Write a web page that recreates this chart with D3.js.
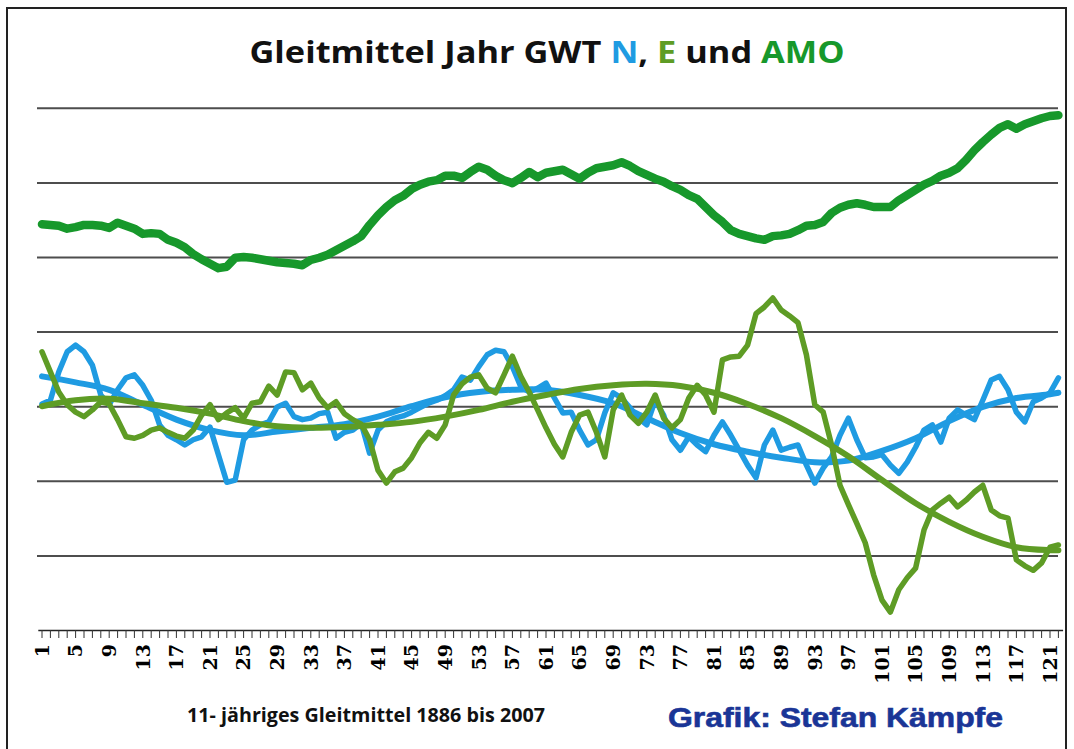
<!DOCTYPE html>
<html><head><meta charset="utf-8">
<script src="https://cdn.jsdelivr.net/npm/d3@7"></script>
<style>body{margin:0;background:#fff}svg{display:block}</style>
</head><body>
<svg id="chart" width="1074" height="749"></svg>
<script>
const categories = ["1","2","3","4","5","6","7","8","9","10","11","12","13","14","15","16","17","18","19","20",
"21","22","23","24","25","26","27","28","29","30","31","32","33","34","35","36","37","38","39","40",
"41","42","43","44","45","46","47","48","49","50","51","52","53","54","55","56","57","58","59","60",
"61","62","63","64","65","66","67","68","69","70","71","72","73","74","75","76","77","78","79","80",
"81","82","83","84","85","86","87","88","89","90","91","92","93","94","95","96","97","98","99","100",
"101","102","103","104","105","106","107","108","109","110","111","112","113","114","115","116","117","118","119","120",
"121","122"];
const tickLabels = ["1","5","9","13","17","21","25","29","33","37","41","45","49","53","57","61","65","69","73","77","81","85","89","93","97","101","105","109","113","117","121"];
const gridValues = [1,2,3,4,5,6,7];

const amo = [5.44,5.43,5.42,5.38,5.40,5.43,5.43,5.42,5.39,5.46,
5.42,5.38,5.31,5.32,5.31,5.23,5.19,5.13,5.04,4.97,
4.91,4.85,4.87,4.99,5.00,4.99,4.97,4.95,4.93,4.92,
4.91,4.89,4.96,4.99,5.03,5.09,5.15,5.21,5.28,5.43,
5.56,5.67,5.76,5.82,5.91,5.97,6.01,6.03,6.09,6.09,
6.06,6.14,6.21,6.17,6.09,6.03,5.99,6.06,6.14,6.07,
6.13,6.15,6.17,6.11,6.05,6.13,6.19,6.21,6.23,6.27,
6.22,6.15,6.10,6.05,6.01,5.95,5.90,5.83,5.78,5.67,
5.56,5.47,5.36,5.31,5.28,5.25,5.23,5.28,5.29,5.31,
5.36,5.42,5.43,5.47,5.59,5.66,5.70,5.72,5.70,5.67,
5.67,5.67,5.76,5.83,5.90,5.97,6.02,6.09,6.13,6.19,
6.30,6.43,6.54,6.64,6.73,6.78,6.72,6.78,6.82,6.86,
6.89,6.90];

const gwtN = [3.03,3.08,3.46,3.73,3.82,3.73,3.55,3.15,3.02,3.22,
3.38,3.42,3.28,3.08,2.75,2.61,2.55,2.48,2.55,2.59,
2.72,2.35,1.98,2.01,2.55,2.68,2.75,2.79,2.99,3.04,
2.86,2.82,2.84,2.90,2.92,2.57,2.65,2.68,2.77,2.37,
2.68,2.79,2.84,2.87,2.92,2.98,3.04,3.08,3.14,3.22,
3.39,3.35,3.53,3.69,3.75,3.73,3.53,3.26,3.19,3.24,
3.31,3.11,2.91,2.92,2.68,2.48,2.55,2.91,3.18,3.11,
2.98,2.84,2.75,3.08,2.88,2.55,2.41,2.59,2.48,2.39,
2.61,2.79,2.61,2.41,2.21,2.04,2.48,2.68,2.41,2.45,
2.48,2.21,1.97,2.17,2.32,2.61,2.84,2.55,2.31,2.32,
2.35,2.21,2.10,2.25,2.45,2.68,2.75,2.52,2.84,2.95,
2.88,2.82,3.08,3.35,3.40,3.22,2.92,2.79,3.06,3.11,
3.18,3.38];

const gwtE = [3.73,3.46,3.19,3.02,2.92,2.86,2.95,3.06,3.03,2.82,
2.59,2.57,2.61,2.68,2.71,2.65,2.60,2.57,2.68,2.88,
3.02,2.82,2.91,2.98,2.84,3.04,3.06,3.27,3.15,3.46,
3.45,3.22,3.31,3.11,2.98,3.06,2.90,2.82,2.76,2.55,
2.14,1.97,2.12,2.17,2.31,2.51,2.65,2.57,2.75,3.15,
3.30,3.39,3.42,3.24,3.18,3.42,3.67,3.40,3.19,2.95,
2.71,2.49,2.32,2.65,2.88,2.92,2.65,2.32,2.95,3.15,
2.88,2.77,2.92,3.15,2.84,2.71,2.82,3.11,3.28,3.15,
2.92,3.62,3.66,3.67,3.82,4.24,4.33,4.45,4.29,4.21,
4.12,3.69,3.02,2.92,2.48,1.94,1.68,1.43,1.17,0.74,
0.40,0.24,0.54,0.70,0.83,1.34,1.61,1.70,1.78,1.65,
1.74,1.85,1.94,1.61,1.53,1.50,0.94,0.86,0.80,0.90,
1.11,1.14];

const trendIdx = ["1","5","9","13","17","21","25","29","33","37","41","45","49","53","57","61","65","69","73","77","81","85","89","93","97","101","105","109","113","117","121","122"];
const trendN = [3.40,3.32,3.22,3.02,2.82,2.68,2.61,2.66,2.71,2.76,2.86,3.00,3.12,3.19,3.22,3.22,3.15,3.04,2.84,2.64,2.49,2.39,2.31,2.25,2.27,2.40,2.57,2.80,2.99,3.11,3.16,3.18];
const trendE = [3.00,3.08,3.10,3.04,2.98,2.90,2.80,2.73,2.71,2.72,2.75,2.79,2.86,2.95,3.06,3.15,3.23,3.28,3.30,3.27,3.18,3.03,2.84,2.60,2.33,2.01,1.70,1.45,1.25,1.11,1.07,1.07];

const colN = "#1f9be2", colE = "#5e9c25", colAMO = "#17982b";

const svg = d3.select("#chart");
svg.append("rect").attr("width",1074).attr("height",749).attr("fill","#fff");
svg.append("path").attr("d","M7,749V8H1066V749").attr("fill","none").attr("stroke","#222").attr("stroke-width",2);

const x = d3.scaleBand().domain(categories).range([37.8,1062.6]).padding(0);
const y = d3.scaleLinear().domain([0,7]).range([630,107.8]);
const cx = d => x(d) + x.bandwidth()/2;

// gridlines
const grid = svg.append("g").attr("transform","translate(37,0)")
  .call(d3.axisLeft(y).tickValues(gridValues).tickSize(-1021).tickFormat(""));
grid.select(".domain").remove();
grid.selectAll(".tick line").attr("stroke","#4d4d4d").attr("stroke-width",2);

// x axis
const xa = svg.append("g").attr("transform","translate(0,630)")
  .call(d3.axisBottom(x).tickValues(categories).tickSize(8).tickSizeOuter(0)
    .tickFormat(d => tickLabels.includes(d) ? d : ""));
xa.select(".domain").attr("stroke","#222").attr("stroke-width",1.6);
xa.selectAll(".tick line").attr("stroke","#333").attr("stroke-width",1);
xa.selectAll(".tick text")
  .attr("transform","rotate(-90)").attr("x",-14).attr("y",0).attr("dy","0.36em")
  .style("text-anchor","end")
  .attr("font-family","'DejaVu Serif', 'Liberation Serif', serif")
  .attr("font-weight","bold").attr("font-size",19).attr("fill","#000");

const lineJag = d3.line().x((d,i) => cx(categories[i])).y(d => y(d));
const lineTrend = d3.line().x((d,i) => cx(trendIdx[i])).y(d => y(d)).curve(d3.curveCatmullRom);

function draw(gen, data, col, w){
  svg.append("path").datum(data).attr("d",gen).attr("fill","none")
    .attr("stroke",col).attr("stroke-width",w)
    .attr("stroke-linejoin","round").attr("stroke-linecap","round");
}
draw(lineJag, gwtN, colN, 5.5);
draw(lineTrend, trendN, colN, 6);
draw(lineJag, gwtE, colE, 5.5);
draw(lineTrend, trendE, colE, 6);
draw(lineJag, amo, colAMO, 8.5);

// title
const t = svg.append("text").attr("x",547).attr("y",63).attr("text-anchor","middle")
  .attr("font-family","'Open Sans', 'Liberation Sans', sans-serif").attr("font-weight","bold")
  .attr("font-size",31).attr("textLength",595).attr("lengthAdjust","spacingAndGlyphs");
t.append("tspan").text("Gleitmittel Jahr GWT ").attr("fill","#111");
t.append("tspan").text("N").attr("fill",colN);
t.append("tspan").text(", ").attr("fill","#111");
t.append("tspan").text("E").attr("fill",colE);
t.append("tspan").text(" und ").attr("fill","#111");
t.append("tspan").text("AMO").attr("fill",colAMO);

svg.append("text").attr("x",187).attr("y",722)
  .attr("font-family","'Open Sans', 'Liberation Sans', sans-serif").attr("font-weight","bold")
  .attr("font-size",20).attr("fill","#111").attr("textLength",358).attr("lengthAdjust","spacingAndGlyphs")
  .text("11- jähriges Gleitmittel 1886 bis 2007");

svg.append("text").attr("x",668).attr("y",727)
  .attr("font-family","'Liberation Sans', Arial, sans-serif").attr("font-weight","bold")
  .attr("font-size",27).attr("fill","#1a3596").attr("textLength",335).attr("lengthAdjust","spacingAndGlyphs")
  .attr("stroke","#1a3596").attr("stroke-width",0.6)
  .text("Grafik: Stefan Kämpfe");
</script>
</body></html>
